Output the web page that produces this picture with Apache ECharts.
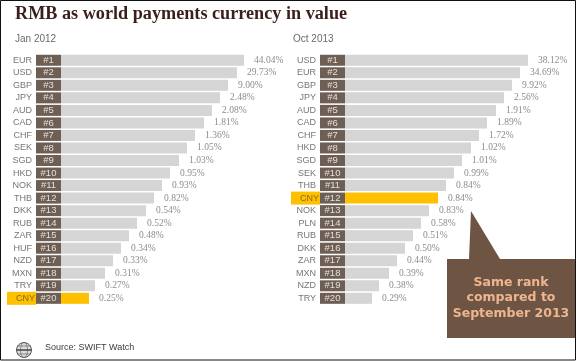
<!DOCTYPE html>
<html><head><meta charset="utf-8">
<style>html,body{margin:0;padding:0;background:#fff}#c{width:577px;height:361px}</style>
<script src="https://cdn.jsdelivr.net/npm/echarts@6/dist/echarts.min.js"></script>
</head><body><div id="c"></div>
<script>
const titleText = 'RMB as world payments currency in value';
const period2012 = 'Jan 2012';
const period2013 = 'Oct 2013';
const source = 'Source: SWIFT Watch';
const calloutLines = ['Same rank', 'compared to', 'September 2013'];

const ranks = ['#1','#2','#3','#4','#5','#6','#7','#8','#9','#10','#11','#12','#13','#14','#15','#16','#17','#18','#19','#20'];
const rankCell = [25,25,25,25,25,25,25,25,25,25,25,25,25,25,25,25,25,25,25,25];

const cur2012 = ['EUR','USD','GBP','JPY','AUD','CAD','CHF','SEK','SGD','HKD','NOK','THB','DKK','RUB','ZAR','HUF','NZD','MXN','TRY','CNY'];
const share2012 = ['44.04%','29.73%','9.00%','2.48%','2.08%','1.81%','1.36%','1.05%','1.03%','0.95%','0.93%','0.82%','0.54%','0.52%','0.48%','0.34%','0.33%','0.31%','0.27%','0.25%'];
const bar2012 = [183,176,167,159,151,143,134,126,118,109,101,93,85,76,68,60,52,44,34,28];

const cur2013 = ['USD','EUR','GBP','JPY','AUD','CAD','CHF','HKD','SGD','SEK','THB','CNY','NOK','PLN','RUB','DKK','ZAR','MXN','NZD','TRY'];
const share2013 = ['38.12%','34.69%','9.92%','2.56%','1.91%','1.89%','1.72%','1.02%','1.01%','0.99%','0.84%','0.84%','0.83%','0.58%','0.51%','0.50%','0.44%','0.39%','0.38%','0.29%'];
const bar2013 = [183,175,167,159,151,142,134,126,117,109,101,93,84,76,68,60,52,44,34,27];

const BROWN='#6e5f55', GREY='#d5d5d5', GOLD='#ffc000', CALLOUT='#6e5443';
const font='"Liberation Sans", Arial, sans-serif';

function panel(i, cats, shares, bars, left){
  return {
    grid:{left:left,top:54,width:250,height:250.6,containLabel:false},
    x:{type:'value',gridIndex:i,min:0,max:250,show:false},
    y:{type:'category',gridIndex:i,inverse:true,data:cats,
       axisLine:{show:false},axisTick:{show:false},
       axisLabel:{margin:0,interval:0,fontFamily:font,fontSize:9,color:'#777',align:'right',
         formatter:v=>v==='CNY'?'{hl|CNY}':'{n|'+v+'}',
         rich:{n:{padding:[0,4,0,0],fontSize:9,color:'#777',fontFamily:font},
               hl:{backgroundColor:GOLD,color:'#86691c',fontSize:9,fontFamily:font,padding:[2,1,1,9],height:10}}}},
    series:[
      {type:'bar',xAxisIndex:i,yAxisIndex:i,stack:'s'+i,barWidth:11,data:rankCell,silent:true,
       itemStyle:{color:BROWN},
       label:{show:true,position:'inside',color:'#e6ded8',fontFamily:font,fontSize:9.5,
              formatter:p=>ranks[p.dataIndex]}},
      {type:'bar',xAxisIndex:i,yAxisIndex:i,stack:'s'+i,barWidth:11,silent:true,
       data:bars.map((v,k)=>({value:v,itemStyle:{color:cats[k]==='CNY'?GOLD:GREY}})),
       label:{show:true,position:'right',distance:10,color:'#8c8c8c',fontFamily:'"Liberation Serif", serif',fontSize:9.5,
              formatter:p=>shares[p.dataIndex]}}
    ]
  };
}
const a=panel(0,cur2012,share2012,bar2012,36);
const b=panel(1,cur2013,share2013,bar2013,320);

const chart=echarts.init(document.getElementById('c'),null,{renderer:'canvas'});
chart.setOption({
  animation:false,backgroundColor:'#fff',
  grid:[a.grid,b.grid],xAxis:[a.x,b.x],yAxis:[a.y,b.y],
  series:[...a.series,...b.series],
  graphic:[
    {type:'rect',z:50,shape:{x:0.5,y:0.5,width:575,height:359.5},style:{fill:'none',stroke:'#111',lineWidth:1}},
    {type:'text',z:50,x:15,y:5,style:{text:titleText,fill:'#3a1f1c',font:'bold 18.2px "Liberation Serif", serif'}},
    {type:'text',z:50,x:15,y:34,style:{text:period2012,fill:'#6a6a6a',font:'10px '+font}},
    {type:'text',z:50,x:293,y:34,style:{text:period2013,fill:'#6a6a6a',font:'10px '+font}},
    {type:'text',z:50,x:45,y:343,style:{text:source,fill:'#3c3c3c',font:'9px '+font}},
    {type:'polygon',z:40,shape:{points:[[447,259],[469,259],[471,211],[500,259],[575,259],[575,338],[447,338]]},style:{fill:CALLOUT}},
    {type:'text',z:50,x:511,y:283,style:{text:calloutLines[0],fill:'#eeb591',font:'bold 12.5px "DejaVu Sans", sans-serif',align:'center',verticalAlign:'middle'}},
    {type:'text',z:50,x:511,y:298,style:{text:calloutLines[1],fill:'#eeb591',font:'bold 12.5px "DejaVu Sans", sans-serif',align:'center',verticalAlign:'middle'}},
    {type:'text',z:50,x:511,y:314,style:{text:calloutLines[2],fill:'#eeb591',font:'bold 12.5px "DejaVu Sans", sans-serif',align:'center',verticalAlign:'middle'}},
    {type:'circle',z:50,shape:{cx:24,cy:350,r:7.5},style:{fill:'#ddd',stroke:'#555',lineWidth:1}},
    {type:'ellipse',z:50,shape:{cx:24,cy:350,rx:3.5,ry:7.5},style:{fill:'none',stroke:'#666',lineWidth:0.7}},
    {type:'line',z:50,shape:{x1:17,y1:346,x2:31,y2:346},style:{stroke:'#666',lineWidth:0.7}},
    {type:'line',z:50,shape:{x1:17,y1:354,x2:31,y2:354},style:{stroke:'#666',lineWidth:0.7}},
    {type:'line',z:50,shape:{x1:16.5,y1:350,x2:31.5,y2:350},style:{stroke:'#444',lineWidth:1.5}}
  ]
});
</script></body></html>
